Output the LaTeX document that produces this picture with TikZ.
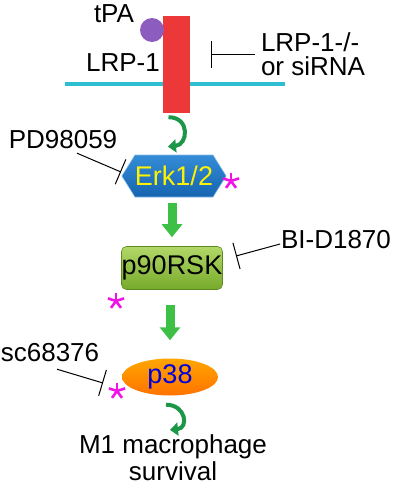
\documentclass[tikz,border=0pt]{standalone}
\usepackage{fontspec}
\setmainfont{Liberation Sans}
\usetikzlibrary{arrows.meta,shapes.geometric,shapes.symbols}

\definecolor{membrane}{RGB}{45,190,210}
\definecolor{receptor}{RGB}{236,56,56}
\definecolor{ligand}{RGB}{140,92,190}
\definecolor{flowgreen}{RGB}{62,192,70}
\definecolor{turngreen}{RGB}{28,150,72}
\definecolor{starpink}{RGB}{240,20,230}
\definecolor{rsktop}{RGB}{178,216,104}
\definecolor{rskbot}{RGB}{118,170,42}
\definecolor{erktop}{RGB}{52,140,215}
\definecolor{erkbot}{RGB}{22,100,175}

\begin{document}
\begin{tikzpicture}[x=1pt,y=-1pt]
  \tikzset{LabelStyle/.style = {
    text          = black,
    inner sep     = 2pt,
    outer sep     = 0pt,
    font          = \fontsize{26}{24}\selectfont
    }
  }
  \tikzset{InhibitStyle/.style = {
    draw          = black,
    line width    = 1pt,
    -{Bar[width=27pt,line width=1pt]}
    }
  }
  \tikzset{FlowStyle/.style = {
    draw          = flowgreen,
    line width    = 9pt,
    -{Triangle[width=20pt,length=13pt]}
    }
  }
  \tikzset{TurnStyle/.style = {
    draw          = turngreen,
    line width    = 4pt,
    -{Triangle[width=13pt,length=8pt]}
    }
  }
  \tikzset{ErkStyle/.style = {
    shape         = signal,
    signal to     = east and west,
    signal pointer angle = 116,
    top color     = erktop,
    bottom color  = erkbot,
    draw          = erktop!60!white,
    line width    = 0.6pt,
    text          = yellow,
    minimum width = 93pt,
    minimum height= 42pt,
    inner sep     = 0pt,
    font          = \fontsize{27}{30}\selectfont
    }
  }
  \tikzset{RskStyle/.style = {
    shape         = rectangle,
    rounded corners = 5pt,
    top color     = rsktop,
    bottom color  = rskbot,
    draw          = rskbot!80!black,
    line width    = 0.6pt,
    text          = black,
    minimum width = 101pt,
    minimum height= 43pt,
    inner sep     = 0pt,
    font          = \fontsize{27}{30}\selectfont
    }
  }
  \tikzset{P38Style/.style = {
    shape         = ellipse,
    top color     = orange!70!yellow,
    bottom color  = orange!90!red,
    text          = blue!85!black,
    minimum width = 96pt,
    minimum height= 37pt,
    inner sep     = 0pt,
    font          = \fontsize{27}{30}\selectfont
    }
  }
  \tikzset{pics/AstMark/.style = {
    code = {
      \foreach \a in {90,162,234,306,378}
        \draw[starpink, line width=2.6pt] (0,0) -- (\a:8.5pt);
      }
    }
  }

  \useasboundingbox (0,0) rectangle (400,485);

  % receptor in the membrane
  \coordinate (M1) at (65, 84);
  \coordinate (M2) at (285, 84);
  \draw[membrane, line width=3.5pt] (M1) -- (M2);
  \node[draw=none, fill=receptor, minimum width=27pt, minimum height=97pt,
        inner sep=0pt](Rec) at (176.5, 64.5) {};
  \node[circle, fill=ligand, minimum size=24pt, inner sep=0pt](Lig) at (152, 30) {};
  \node[LabelStyle](TPA) at (114, 14) {tPA};
  \node[LabelStyle](LRP) at (123, 63) {LRP-1};
  \node[LabelStyle, align=left, anchor=west](KO) at (259, 54) {LRP-1-/-\\or siRNA};
  \coordinate (KObar) at (211, 54);
  \draw[InhibitStyle, shorten <=4pt] (KO.west) -- (KObar);

  % cascade
  \node[ErkStyle](Erk) at (174, 176) {Erk1/2};
  \node[RskStyle](Rsk) at (172, 268) {p90RSK};
  \node[P38Style](P38) at (170, 377) {p38};
  \node[LabelStyle, align=center, font=\fontsize{26}{27}\selectfont](Surv)
        at (173, 458) {M1 macrophage\\survival};

  \draw[TurnStyle] ([shift={(-8,4)}]Rec.south) .. controls +(22,0) and +(20,-2) .. ([shift={(-6,-8)}]Erk.north);
  \draw[FlowStyle, shorten <=6pt, shorten >=9pt] (Erk.south -| Rsk.north) -- (Rsk.north);
  \draw[FlowStyle, shorten <=15pt, shorten >=18pt] (Rsk.south -| P38.north) -- (P38.north);
  \draw[TurnStyle] ([shift={(-4,9)}]P38.south) .. controls +(20,0) and +(19,-2) .. ([shift={(-3,-3)}]Surv.north);

  % inhibitors
  \node[LabelStyle](PD) at (63, 140) {PD98059};
  \node[LabelStyle](BI) at (336, 240) {BI-D1870};
  \node[LabelStyle](SC) at (50, 353) {sc68376};
  \coordinate (PDbar) at (121, 172);
  \coordinate (BIbar) at (236, 256);
  \coordinate (SCbar) at (103, 383);
  \draw[InhibitStyle] ([shift={(14,2)}]PD.south) -- (PDbar);
  \draw[InhibitStyle] ([shift={(1,4)}]BI.west) -- (BIbar);
  \draw[InhibitStyle] ([shift={(7,5)}]SC.south) -- (SCbar);

  % phosphorylation marks
  \pic at (231, 181) {AstMark};
  \pic at (116, 301) {AstMark};
  \pic at (117, 391) {AstMark};

\end{tikzpicture}
\end{document}
